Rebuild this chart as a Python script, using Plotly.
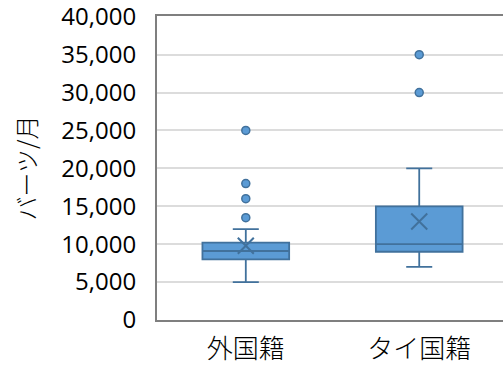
import plotly.graph_objects as go

categories = ["外国籍", "タイ国籍"]
q1 = [8000, 9000]
median = [9100, 10000]
q3 = [10200, 15000]
lower = [5000, 7000]
upper = [12000, 20000]
means = [9800, 13000]
outlier_x = ["外国籍", "外国籍", "外国籍", "外国籍", "タイ国籍", "タイ国籍"]
outlier_y = [13500, 16000, 18000, 25000, 30000, 35000]
y_ticks = [0, 5000, 10000, 15000, 20000, 25000, 30000, 35000, 40000]

fill = "#5B9BD5"
edge = "#41719C"

fig = go.Figure()
fig.add_trace(go.Box(
    x=categories, q1=q1, median=median, q3=q3,
    lowerfence=lower, upperfence=upper,
    fillcolor=fill, line=dict(color=edge, width=1.8),
    width=0.5, whiskerwidth=0.3, boxpoints=False, showlegend=False,
))
fig.add_trace(go.Scatter(
    x=outlier_x, y=outlier_y, mode="markers",
    marker=dict(symbol="circle", size=8, color=fill, line=dict(color=edge, width=1.5)),
    showlegend=False,
))
fig.add_trace(go.Scatter(
    x=categories, y=means, mode="markers",
    marker=dict(symbol="x-thin-open", size=16, color=edge, line=dict(color=edge, width=2)),
    showlegend=False,
))

fig.update_layout(
    width=503, height=366,
    margin=dict(l=157, r=0, t=16, b=46),
    plot_bgcolor="white", paper_bgcolor="white",
    font=dict(family="Open Sans, Noto Sans CJK JP", color="black"),
)
fig.update_xaxes(
    type="category", range=[-0.512, 1.483],
    showline=True, mirror=True, linecolor="#7F7F7F", linewidth=2,
    showgrid=False, ticks="", ticklabelstandoff=5,
    tickfont=dict(family="Noto Sans CJK JP", size=26, color="black", weight=300),
)
fig.update_yaxes(
    range=[0, 40100], tickvals=y_ticks, ticktext=[f"{v:,}" for v in y_ticks],
    showline=True, linecolor="#7F7F7F", linewidth=2,
    showgrid=True, gridcolor="#DCDCDC", gridwidth=1.5,
    zeroline=False, ticks="", ticklen=0, ticklabelstandoff=14,
    ticklabeloverflow="allow",
    tickfont=dict(family="Open Sans", size=24, color="black"),
    title=dict(text="バーツ/月", font=dict(family="Noto Sans CJK JP", size=24, color="black", weight=300), standoff=18),
)

fig.write_html("out.html")
